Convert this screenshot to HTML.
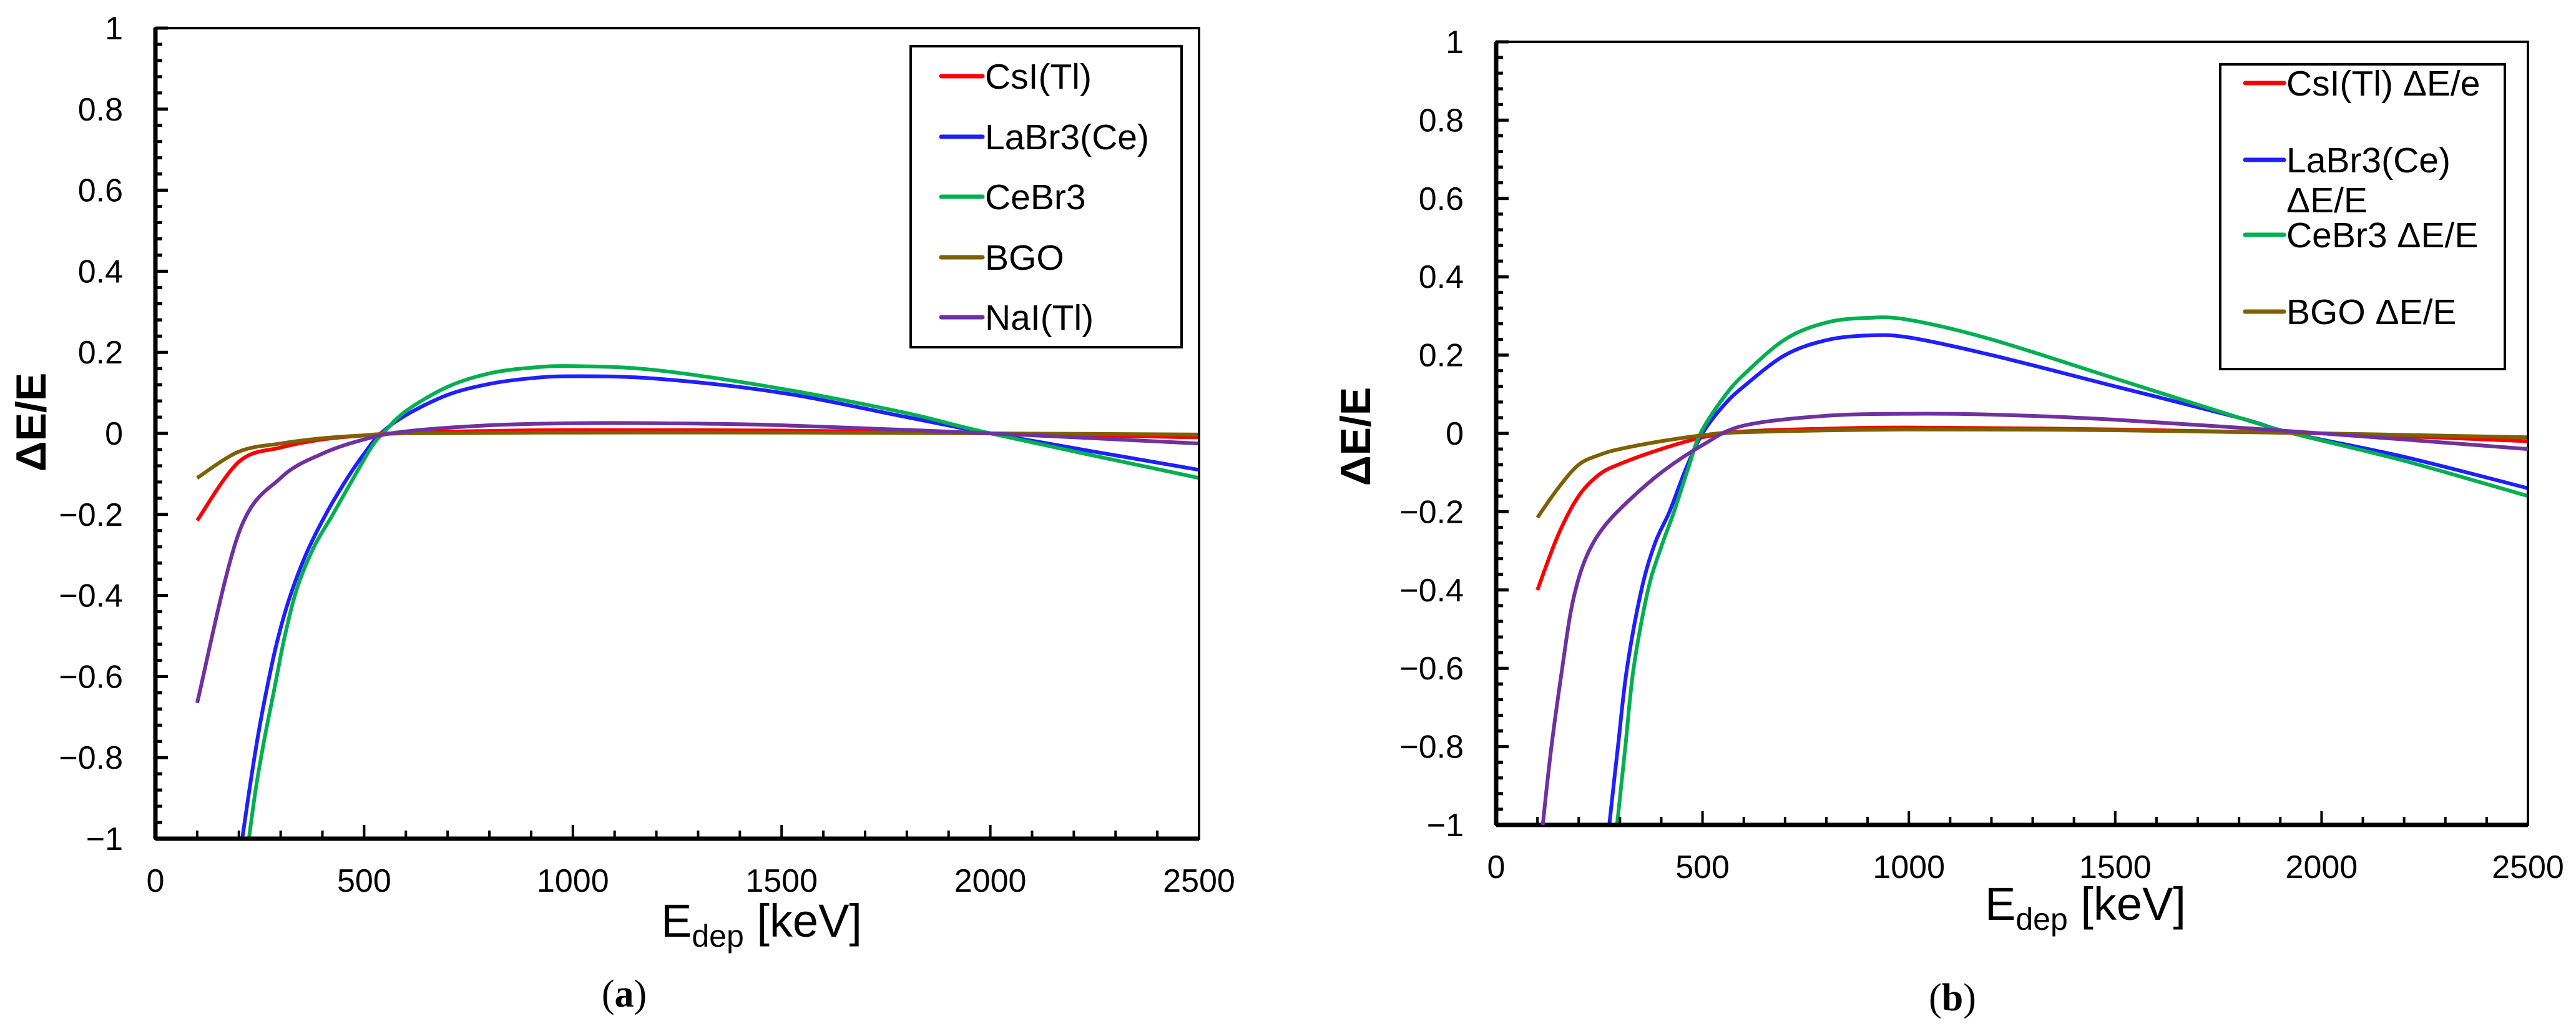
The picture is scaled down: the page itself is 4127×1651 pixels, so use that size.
<!DOCTYPE html>
<html><head><meta charset="utf-8">
<style>
html,body{margin:0;padding:0;background:#fff;}
svg{display:block;font-family:"Liberation Sans",Arial,sans-serif;}
</style></head>
<body>
<svg id="fig" width="4127" height="1651" viewBox="0 0 4127 1651" xmlns="http://www.w3.org/2000/svg"></svg>
<script>
// ---------- data ----------
const xTicks = [0, 500, 1000, 1500, 2000, 2500];
const yTicks = [1, 0.8, 0.6, 0.4, 0.2, 0, -0.2, -0.4, -0.6, -0.8, -1];
const yTickLabels = ["1","0.8","0.6","0.4","0.2","0","\u22120.2","\u22120.4","\u22120.6","\u22120.8","\u22121"];

// panel (a)
const aCsIx = [100,200,300,400,500,600,800,1000,1500,2000,2500];
const aCsIy = [-0.215,-0.07,-0.035,-0.015,-0.005,0.002,0.006,0.008,0.007,0.0,-0.01];
const aBGOx = [100,200,300,400,500,600,1000,1500,2000,2500];
const aBGOy = [-0.11,-0.045,-0.025,-0.012,-0.005,0,0.002,0.002,0,-0.003];
const aNaIx = [100,200,300,400,500,600,800,1000,1200,1500,2000,2500];
const aNaIy = [-0.665,-0.245,-0.11,-0.05,-0.015,0.005,0.02,0.025,0.025,0.02,0,-0.025];
const aLaBrx = [208,225,245,265,290,320,360,408,460,500,540,600,700,800,900,1000,1200,1500,1800,2000,2500];
const aLaBry = [-1,-0.88,-0.75,-0.64,-0.52,-0.41,-0.3,-0.2,-0.11,-0.05,0,0.045,0.095,0.122,0.136,0.141,0.135,0.1,0.04,0,-0.09];
const aCeBrx = [224,240,260,285,310,340,380,425,480,520,545,600,700,800,900,1000,1200,1500,1800,2000,2500];
const aCeBry = [-1,-0.88,-0.76,-0.63,-0.5,-0.38,-0.28,-0.2,-0.1,-0.03,0,0.055,0.115,0.148,0.162,0.166,0.156,0.11,0.05,0,-0.11];

// panel (b)
const bCsIx = [100,150,200,250,300,400,500,600,800,1000,1500,2000,2500];
const bCsIy = [-0.4,-0.26,-0.16,-0.105,-0.078,-0.04,-0.01,0.005,0.012,0.015,0.01,0,-0.02];
const bBGOx = [100,150,200,250,300,400,500,600,1000,1500,2000,2500];
const bBGOy = [-0.215,-0.14,-0.08,-0.055,-0.04,-0.02,-0.005,0.003,0.01,0.008,0,-0.01];
const bNaIx = [113,125,140,160,180,200,225,260,313,400,500,600,800,1000,1200,1500,2000,2500];
const bNaIy = [-1,-0.88,-0.75,-0.6,-0.46,-0.37,-0.3,-0.24,-0.18,-0.1,-0.03,0.02,0.045,0.05,0.048,0.035,0,-0.04];
const bLaBrx = [274,295,317,352,385,420,460,500,550,600,700,800,900,1000,1200,1500,1800,1930,2200,2500];
const bLaBry = [-1,-0.8,-0.6,-0.4,-0.28,-0.2,-0.09,0,0.07,0.12,0.2,0.238,0.25,0.245,0.2,0.12,0.04,0,-0.06,-0.14];
const bCeBrx = [293,313,333,368,400,431,465,495,550,600,700,800,900,1000,1200,1500,1800,1930,2200,2500];
const bCeBry = [-1,-0.8,-0.6,-0.4,-0.29,-0.2,-0.09,0,0.09,0.15,0.24,0.283,0.295,0.29,0.24,0.14,0.04,0,-0.07,-0.16];

const RED="#ff0000", BLUE="#1f1fff", GREEN="#00b050", BROWN="#7f6000", PURPLE="#7030a0";

const NS="http://www.w3.org/2000/svg";
const svg=document.getElementById('fig');
function el(tag, attrs, parent){
  const e=document.createElementNS(NS,tag);
  for(const k in attrs) e.setAttribute(k, attrs[k]);
  (parent||svg).appendChild(e);
  return e;
}

function smoothPath(pts){
  let d="M"+pts[0][0].toFixed(1)+","+pts[0][1].toFixed(1);
  for(let i=0;i<pts.length-1;i++){
    const p0=pts[Math.max(0,i-1)], p1=pts[i], p2=pts[i+1], p3=pts[Math.min(pts.length-1,i+2)];
    const c1=[p1[0]+(p2[0]-p0[0])/6, p1[1]+(p2[1]-p0[1])/6];
    const c2=[p2[0]-(p3[0]-p1[0])/6, p2[1]-(p3[1]-p1[1])/6];
    d+=" C"+c1[0].toFixed(1)+","+c1[1].toFixed(1)+" "+c2[0].toFixed(1)+","+c2[1].toFixed(1)+" "+p2[0].toFixed(1)+","+p2[1].toFixed(1);
  }
  return d;
}

function panel(cfg){
  const g=el('g',{});
  
  
  const L=cfg.left,R=cfg.right,T=cfg.top,B=cfg.bottom;
  const xs=v=>L+(v/2500)*(R-L);
  const ys=v=>T+(1-v)/2*(B-T);
  const clipId=cfg.name+"-clip";
  const defs=el('defs',{},g);
  const cp=el('clipPath',{id:clipId},defs);
  el('rect',{x:L,y:T,width:R-L,height:B-T},cp);

  cfg.series.forEach(s=>{
    const pts=s.x.map((v,i)=>[xs(v),ys(s.y[i])]);
    const p=el('path',{d:smoothPath(pts),fill:'none',stroke:s.color,'stroke-width':6,'stroke-linejoin':'round','clip-path':'url(#'+clipId+')'},g);
    
    
  });

  const fr=el('rect',{x:L,y:T,width:R-L,height:B-T,fill:'none',stroke:'#000','stroke-width':4},g);
  
  
  el('line',{x1:L,y1:T,x2:L,y2:B,stroke:'#000','stroke-width':7},g);
  el('line',{x1:L,y1:B,x2:R,y2:B,stroke:'#000','stroke-width':7},g);

  for(let k=0;k<=50;k++){
    const v=-1+k*0.04;
    const major=(k%5===0);
    el('line',{x1:L,y1:ys(v),x2:L+(major?20:11),y2:ys(v),stroke:'#000','stroke-width':5},g);
  }
  for(let v=0;v<=2500;v+=100){
    const major=(v%500===0);
    el('line',{x1:xs(v),y1:B,x2:xs(v),y2:B-(major?22:13),stroke:'#000','stroke-width':4},g);
  }
  yTicks.forEach((v,i)=>{
    const t=el('text',{x:cfg.ylabX,y:ys(v)+18,'text-anchor':'end','font-size':52,fill:'#000'},g);
    t.textContent=yTickLabels[i];
    
    
  });
  xTicks.forEach(v=>{
    const t=el('text',{x:xs(v),y:cfg.xlabY,'text-anchor':'middle','font-size':52,fill:'#000'},g);
    t.textContent=String(v);
    
    
  });
  const yt=el('text',{x:cfg.ytitleX,y:cfg.ytitleY,'text-anchor':'middle','font-size':68,'font-weight':'bold',transform:'rotate(-90 '+cfg.ytitleX+' '+cfg.ytitleY+')'},g);
  yt.textContent='\u0394E/E';
  
  
  const xt=el('text',{x:cfg.xtitleX,y:cfg.xtitleY,'text-anchor':'middle','font-size':74},g);
  
  
  xt.appendChild(document.createTextNode('E'));
  const sub=el('tspan',{'font-size':50,dy:16},xt); sub.textContent='dep';
  const rest=el('tspan',{dy:-16},xt); rest.textContent=' [keV]';
  const cap=el('text',{x:cfg.capX,y:cfg.capY,'text-anchor':'middle','font-size':62,'font-family':'"Liberation Serif",serif'},g);
  
  
  cap.appendChild(document.createTextNode('('));
  const b=el('tspan',{'font-weight':'bold'},cap); b.textContent=cfg.cap;
  cap.appendChild(document.createTextNode(')'));

  const lg=el('g',{},g);
  
  
  const box=cfg.legend;
  el('rect',{x:box.x,y:box.y,width:box.w,height:box.h,fill:'#fff',stroke:'#000','stroke-width':4},lg);
  cfg.series.forEach((s,i)=>{
    const ey=box.rows[i];
    const ent=el('g',{},lg);
    
    
    el('line',{x1:box.lx1,y1:ey,x2:box.lx2,y2:ey,stroke:s.color,'stroke-width':7,'stroke-linecap':'round'},ent);
    const lines=s.label.split('\n');
    lines.forEach((ln,j)=>{
      const t=el('text',{x:box.lx2+4,y:ey+20+j*64,'font-size':57,fill:'#000'},ent);
      t.textContent=ln;
    });
  });
}

panel({name:'panel-a',left:249,right:1921,top:45,bottom:1343,ylabX:197,xlabY:1428,
  ytitleX:73,ytitleY:676,xtitleX:1220,xtitleY:1500,capX:1000,capY:1612,cap:'a',
  legend:{x:1459,y:74,w:434,h:482,lx1:1508,lx2:1574,rows:[122,219,315,412,508]},
  series:[
    {id:'csi',color:RED,x:aCsIx,y:aCsIy,label:'CsI(Tl)'},
    {id:'labr3',color:BLUE,x:aLaBrx,y:aLaBry,label:'LaBr3(Ce)'},
    {id:'cebr3',color:GREEN,x:aCeBrx,y:aCeBry,label:'CeBr3'},
    {id:'bgo',color:BROWN,x:aBGOx,y:aBGOy,label:'BGO'},
    {id:'nai',color:PURPLE,x:aNaIx,y:aNaIy,label:'NaI(Tl)'}
  ]
});

panel({name:'panel-b',left:2397,right:4050,top:67,bottom:1321,ylabX:2345,xlabY:1406,
  ytitleX:2195,ytitleY:699,xtitleX:3341,xtitleY:1473,capX:3128,capY:1618,cap:'b',
  legend:{x:3557,y:103,w:456,h:488,lx1:3597,lx2:3659,rows:[133,256,376,499]},
  series:[
    {id:'csi',color:RED,x:bCsIx,y:bCsIy,label:'CsI(Tl) \u0394E/e'},
    {id:'labr3',color:BLUE,x:bLaBrx,y:bLaBry,label:'LaBr3(Ce)\n\u0394E/E'},
    {id:'cebr3',color:GREEN,x:bCeBrx,y:bCeBry,label:'CeBr3 \u0394E/E'},
    {id:'bgo',color:BROWN,x:bBGOx,y:bBGOy,label:'BGO \u0394E/E'}
  ]
});
(function(){
  const L=2397,R=4050,T=67,B=1321;
  const xs=v=>L+(v/2500)*(R-L), ys=v=>T+(1-v)/2*(B-T);
  const pts=bNaIx.map((v,i)=>[xs(v),ys(bNaIy[i])]);
  const p=el('path',{d:smoothPath(pts),fill:'none',stroke:PURPLE,'stroke-width':6,'clip-path':'url(#panel-b-clip)'});
  
  
})();
</script>
</body></html>
